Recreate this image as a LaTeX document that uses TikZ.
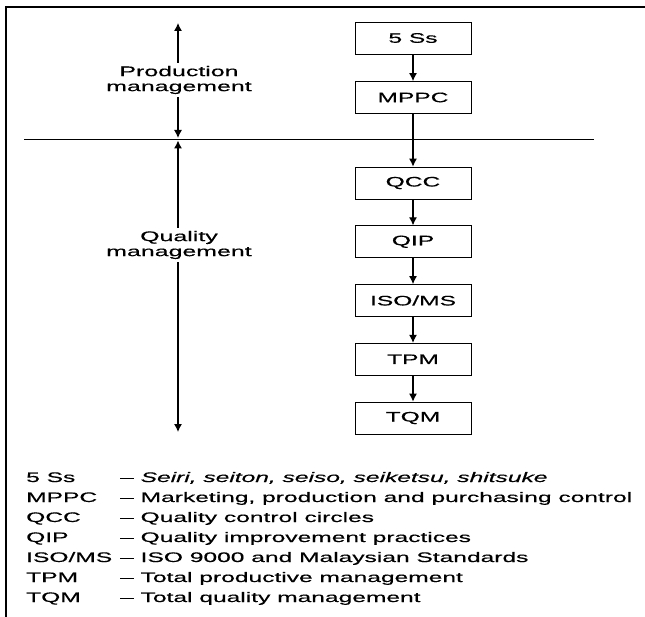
\documentclass[tikz,border=0pt]{standalone}
\usepackage{fontspec}
\setmainfont{Liberation Sans}[FakeStretch=1.78,FakeBold=0.4]
\usepackage{tikz}
\usetikzlibrary{arrows.meta,positioning}
\tikzstyle{process} = [rectangle, minimum width=116pt, minimum height=32pt, text centered, draw=black, line width=0.8pt, inner sep=0pt]
\tikzstyle{arrow} = [line width=1.1pt,-{Latex[length=8pt,width=8pt]}]
\tikzstyle{sidetext} = [align=center, inner sep=3pt, font=\fontsize{14}{15}\selectfont]

\begin{document}
\begin{tikzpicture}[x=1pt,y=-1pt,node distance=58.75pt,font=\fontsize{13.8}{15}\selectfont]
\useasboundingbox (0,0) rectangle (645,617);
% Frame and divider
\draw[line width=1.6pt] (6,617) -- (6,7) -- (645,7);
\coordinate (divl) at (24,139);
\coordinate (divr) at (594,139);
\draw[line width=0.9pt] (divl) -- (divr);
% Chain
\node (ss) [process] at (413,38) {5 Ss};
\node (mppc) [process, below of=ss, node distance=59.5pt] {MPPC};
\node (qcc) [process, below of=mppc, node distance=85.5pt] {QCC};
\node (qip) [process, below of=qcc] {QIP};
\node (iso) [process, below of=qip] {ISO/MS};
\node (tpm) [process, below of=iso] {TPM};
\node (tqm) [process, below of=tpm] {TQM};
\draw [arrow] (ss) -- (mppc);
\draw [arrow] (mppc) -- (qcc);
\draw [arrow] (qcc) -- (qip);
\draw [arrow] (qip) -- (iso);
\draw [arrow] (iso) -- (tpm);
\draw [arrow] (tpm) -- (tqm);
% Side arrows
\coordinate (ptop) at (178,23);
\coordinate (pbot) at (178,138);
\node (prod) [sidetext] at (179,80) {Production\\management};
\draw [arrow] (prod.south -| pbot) -- (pbot);
\draw [arrow] (prod.north -| ptop) -- (ptop);
\coordinate (qtop) at (178,140.5);
\coordinate (qbot) at (178,432);
\node (qual) [sidetext] at (179,245) {Quality\\management};
\draw [arrow] (qual.north -| qtop) -- (qtop);
\draw [arrow] (qual.south -| qbot) -- (qbot);
% Legend
\node (legend) [anchor=base west, inner sep=0pt, font=\fontsize{13.8}{20}\selectfont] at (26,482) {%
\begin{tabular}[t]{@{}l@{\hspace{8pt}}l@{}}
5 Ss & -- \textit{Seiri, seiton, seiso, seiketsu, shitsuke}\\
MPPC & -- Marketing, production and purchasing control\\
QCC & -- Quality control circles\\
QIP & -- Quality improvement practices\\
ISO/MS & -- ISO 9000 and Malaysian Standards\\
TPM & -- Total productive management\\
TQM & -- Total quality management
\end{tabular}};
\end{tikzpicture}
\end{document}
